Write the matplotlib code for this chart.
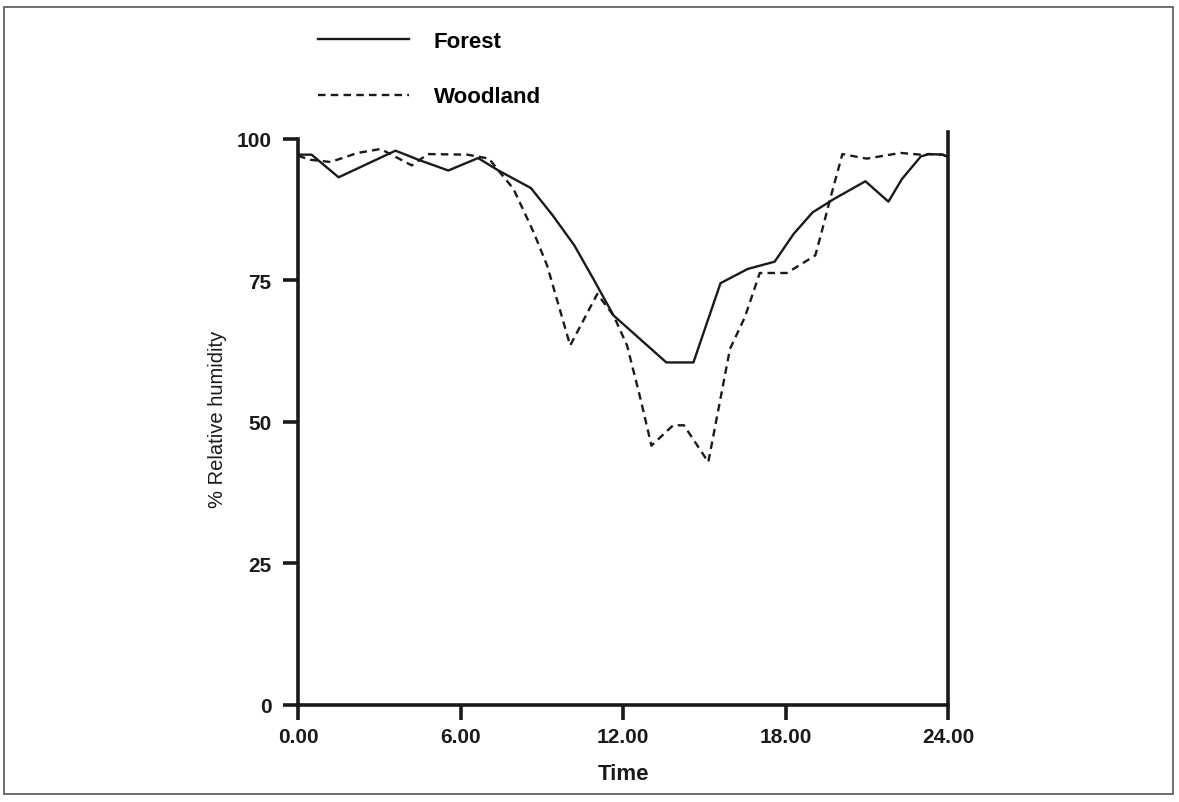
import matplotlib
matplotlib.use("Agg")
import matplotlib.pyplot as plt
from matplotlib.patches import Rectangle

plt.rcParams['font.family'] = ['Liberation Sans', 'DejaVu Sans']

# hours of day and % relative humidity
forest_t = [0.0, 0.5, 1.5, 3.6, 4.5, 5.55, 6.65, 7.4, 8.6, 9.4, 10.2, 10.9,
            11.65, 13.6, 14.6, 15.6, 16.6, 17.6, 18.3, 19.0, 19.8, 20.95,
            21.8, 22.3, 23.0, 23.3, 23.8, 24.0]
forest_rh = [97.2, 97.2, 93.2, 97.9, 96.2, 94.4, 96.6, 94.4, 91.3, 86.5, 81.2,
             75.3, 68.8, 60.5, 60.5, 74.5, 77.0, 78.3, 83.2, 87.0, 89.4, 92.5,
             88.9, 92.9, 96.9, 97.3, 97.2, 96.8]

woodland_t = [0.0, 0.45, 1.2, 2.2, 3.05, 4.2, 4.8, 6.25, 7.05, 7.45, 7.95,
              8.7, 9.2, 10.05, 11.05, 11.65, 12.15, 12.65, 13.05, 13.85,
              14.25, 15.15, 15.95, 16.5, 17.05, 18.05, 19.1, 19.3, 19.65,
              20.1, 21.0, 22.25, 23.0, 23.3, 23.8, 24.0]
woodland_rh = [97.0, 96.3, 95.9, 97.5, 98.2, 95.3, 97.3, 97.2, 96.5, 94.1,
               91.2, 83.5, 77.6, 63.5, 72.6, 68.8, 63.5, 54.0, 45.8, 49.4,
               49.4, 42.9, 62.9, 68.5, 76.3, 76.3, 79.4, 82.9, 89.4, 97.3,
               96.5, 97.5, 97.2, 97.3, 97.2, 96.8]

x_ticks = [0, 6, 12, 18, 24]
x_labels = ["0.00", "6.00", "12.00", "18.00", "24.00"]
y_ticks = [0, 25, 50, 75, 100]

W, H = 1179, 803
ink = "#1a1a1a"
fig = plt.figure(figsize=(W / 100, H / 100), dpi=100)
ax = fig.add_axes([298 / W, 1 - 706 / H, (948 - 298) / W, (706 - 133) / H])

dash = (0, (3.2, 2.2))
ax.plot(forest_t, forest_rh, color=ink, lw=1.7, label="Forest")
ax.plot(woodland_t, woodland_rh, color=ink, lw=1.7, linestyle=dash,
        label="Woodland")

ax.set_xlim(0, 24)
ax.set_ylim(0, 101.2)
ax.set_xticks(x_ticks)
ax.set_xticklabels(x_labels)
ax.set_yticks(y_ticks)

for s in ["left", "bottom", "right"]:
    ax.spines[s].set_linewidth(2.6)
    ax.spines[s].set_color(ink)
ax.spines["top"].set_visible(False)
ax.spines["left"].set_bounds(0, 100)

ax.tick_params(axis="both", direction="out", width=2.6, color=ink,
               labelsize=15, length=11)
ax.tick_params(axis="x", pad=5)
ax.tick_params(axis="y", pad=8)
for lab in ax.get_xticklabels() + ax.get_yticklabels():
    lab.set_fontweight("bold")
    lab.set_color(ink)

ax.set_xlabel("Time", fontsize=16, fontweight="bold", labelpad=12, color=ink)
ax.set_ylabel("% Relative humidity", fontsize=14.5, labelpad=7, color=ink)

fig.legend(loc="upper left", bbox_to_anchor=(318 / W, 1 - 32 / H),
           frameon=False, handlelength=4.1, handletextpad=1.1,
           labelspacing=1.55, borderpad=0, borderaxespad=0,
           prop={"weight": "bold", "size": 16})

fig.patches.append(Rectangle((4 / W, 1 - 795 / H), (1173 - 4) / W,
                             (795 - 8) / H, transform=fig.transFigure,
                             fill=False, edgecolor="#555555", lw=1.2))

fig.savefig("out.png", dpi=100)
